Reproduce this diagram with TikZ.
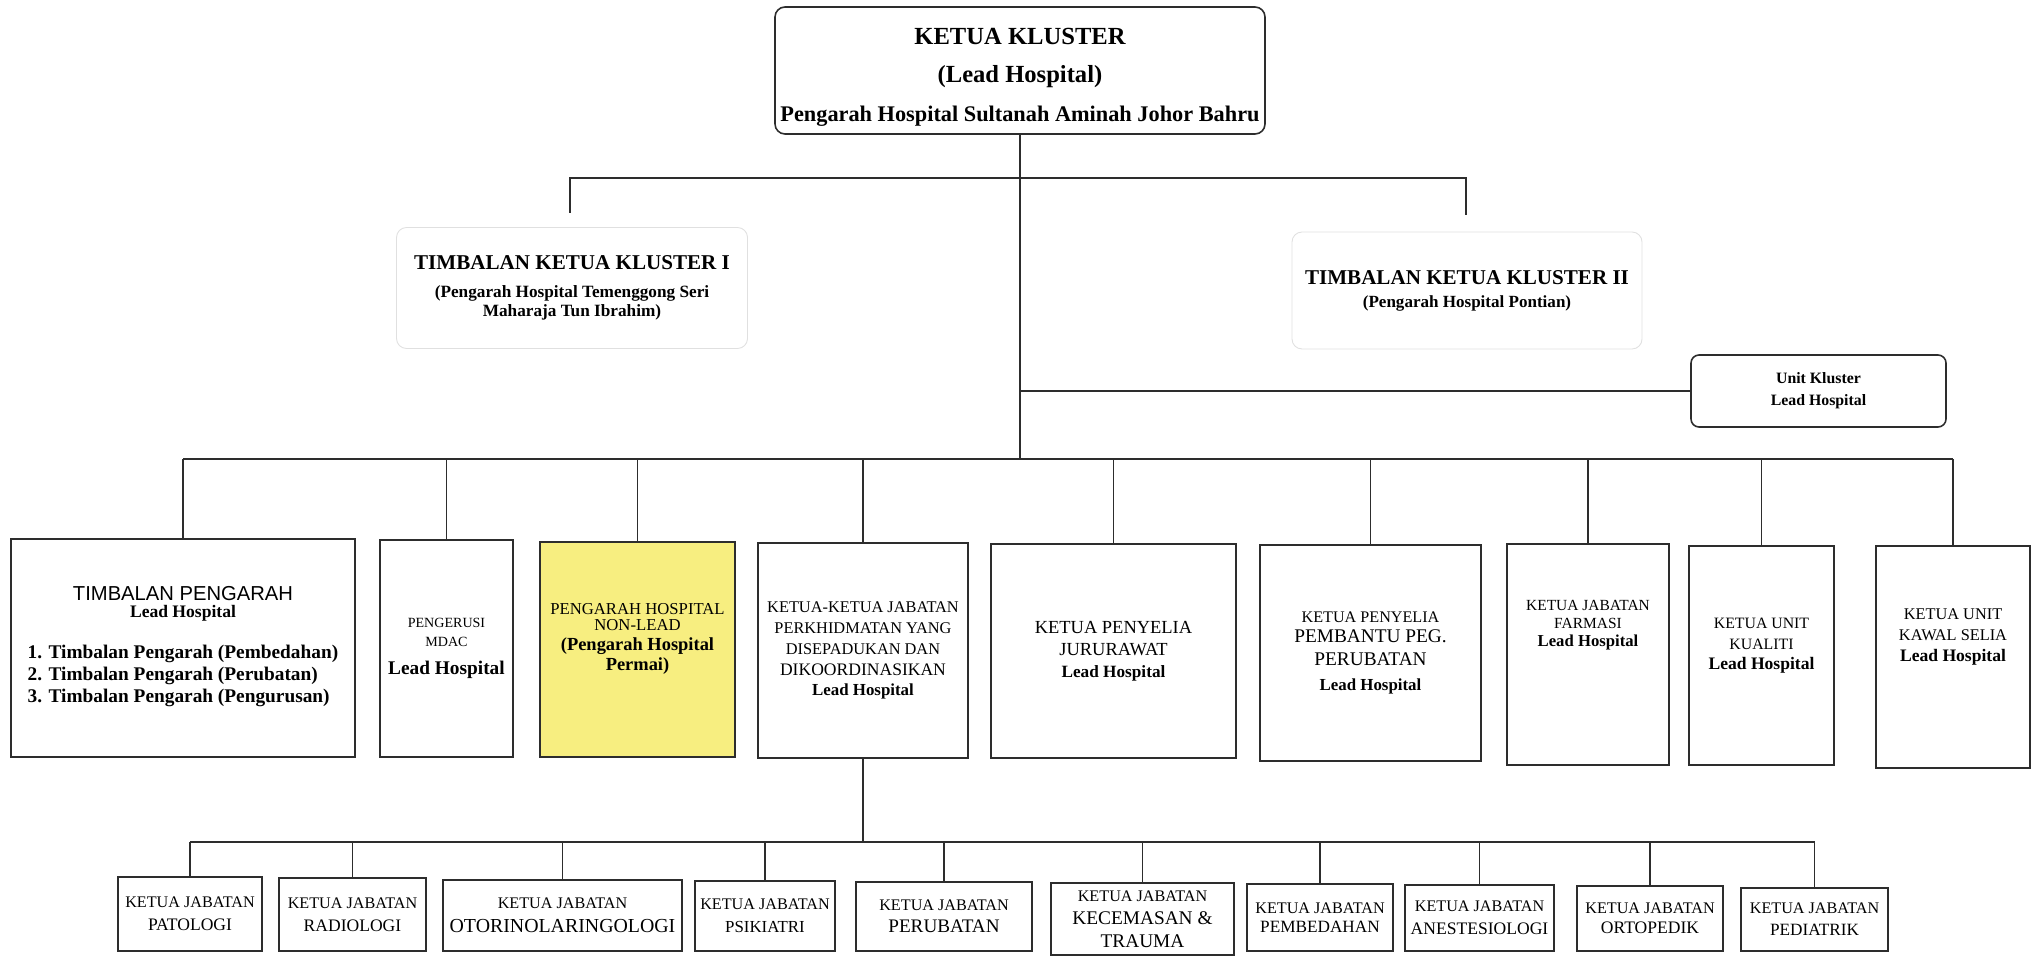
\documentclass[tikz,border=0pt]{standalone}
\usepackage{fontspec}
\setmainfont{Liberation Serif}
\setsansfont{Liberation Sans}
\newcommand{\fsz}[2]{\fontsize{#1pt}{#2pt}\selectfont}
\definecolor{linec}{RGB}{45,45,45}
\definecolor{nonleadyellow}{RGB}{247,238,128}
\tikzset{
  orgbox/.style={draw=linec, line width=0.9pt, inner sep=0pt, align=center},
  softbox/.style={draw=black!12, line width=0.5pt, rounded corners=0.2cm, inner sep=0pt, align=center},
  wh/.style 2 args={minimum width=#1*0.02cm, minimum height=#2*0.02cm},
  link/.style={draw=linec, line width=1pt},
  kjbox/.style={orgbox, font={\fsz{9.2}{13}}},
}
\begin{document}
\begin{tikzpicture}[x=0.02cm, y=-0.02cm]
  \useasboundingbox (0,0) rectangle (2040,956);
  \fill[white] (0,0) rectangle (2040,956);

  \node[orgbox, rounded corners=0.2cm, wh={490}{127}, font={\fsz{14}{22}\bfseries}] (ketua) at (1020,70.5)
    {\mbox{}\\[-5pt]KETUA KLUSTER\\(Lead Hospital)\\{\fsz{12.7}{15}Pengarah Hospital Sultanah Aminah Johor Bahru}};

  \node[softbox, wh={351}{121}, font={\fsz{9.8}{11}\bfseries}] (timbalan1) at (572,288)
    {{\fsz{12}{14}TIMBALAN KETUA KLUSTER I}\\[5pt](Pengarah Hospital Temenggong Seri\\Maharaja Tun Ibrahim)};
  \node[softbox, wh={350}{117}, font={\fsz{9.7}{13}\bfseries}] (timbalan2) at (1467,290.5)
    {{\fsz{12}{14}TIMBALAN KETUA KLUSTER II}\\(Pengarah Hospital Pontian)};

  \node[orgbox, rounded corners=0.16cm, wh={255}{72}, font={\fsz{9}{12.5}\bfseries}] (unitkluster) at (1818.5,391)
    {Unit Kluster\\Lead Hospital};

  \node[orgbox, wh={344}{218}, font={\fsz{11}{12.8}\bfseries}] (tp) at (183,648)
    {{\sffamily\mdseries\fsz{11.5}{12}TIMBALAN PENGARAH}\\[-3.2pt]{\fsz{10}{12}Lead Hospital}\\[10.4pt]%
     \begin{tabular}[t]{@{}l@{}}1. Timbalan Pengarah (Pembedahan)\\2. Timbalan Pengarah (Perubatan)\\3. Timbalan Pengarah (Pengurusan)\end{tabular}};
  \node[orgbox, wh={133}{217}, font={\fsz{8}{10.8}}] (mdac) at (446.5,648.5)
    {PENGERUSI\\MDAC\\[5.6pt]{\bfseries\fsz{11}{13}Lead Hospital}};
  \node[orgbox, fill=nonleadyellow, wh={195}{215}, font={\fsz{9.5}{11.3}}] (nonlead) at (637.5,649.5)
    {PENGARAH HOSPITAL\\[-2.3pt]NON-LEAD\\{\bfseries\fsz{10.5}{12}(Pengarah Hospital}\\{\bfseries\fsz{10.5}{12}Permai)}\\[3pt]\mbox{}};
  \node[orgbox, wh={210}{215}, font={\fsz{9.3}{11.9}}] (jabatan) at (863,650.5)
    {KETUA-KETUA JABATAN\\PERKHIDMATAN YANG\\DISEPADUKAN DAN\\{\fsz{10}{12}DIKOORDINASIKAN}\\{\bfseries\fsz{9.6}{12}Lead Hospital}};
  \node[orgbox, wh={245}{214}, font={\fsz{10.5}{12.5}}] (jururawat) at (1113.5,651)
    {KETUA PENYELIA\\JURURAWAT\\{\bfseries\fsz{9.8}{12}Lead Hospital}};
  \node[orgbox, wh={221}{216}, font={\fsz{11}{13.6}}] (pembantu) at (1370.5,653)
    {{\fsz{9.2}{11}KETUA PENYELIA}\\[-2.3pt]PEMBANTU PEG.\\PERUBATAN\\[0.6pt]{\bfseries\fsz{9.6}{12}Lead Hospital}};
  \node[orgbox, wh={162}{221}, font={\fsz{8.8}{10.2}}] (farmasi) at (1588,654.5)
    {KETUA JABATAN\\FARMASI\\{\bfseries\fsz{9.5}{12}Lead Hospital}\\[25pt]\mbox{}};
  \node[orgbox, wh={145}{219}, font={\fsz{9}{11.6}}] (kualiti) at (1761.5,655.5)
    {KETUA UNIT\\KUALITI\\{\bfseries\fsz{10}{12}Lead Hospital}\\[1.4pt]\mbox{}};
  \node[orgbox, wh={154}{222}, font={\fsz{9.3}{11.9}}] (kawal) at (1953,657)
    {KETUA UNIT\\KAWAL SELIA\\{\bfseries\fsz{10}{12}Lead Hospital}\\[13pt]\mbox{}};

  \node[kjbox, wh={144}{74}] (patologi) at (190,914) {KETUA JABATAN\\{\fsz{10}{12}PATOLOGI}};
  \node[kjbox, wh={147}{73}] (radiologi) at (352.5,914.5) {KETUA JABATAN\\{\fsz{10}{12}RADIOLOGI}};
  \node[kjbox, wh={239}{71}] (otorino) at (562.5,915.5) {KETUA JABATAN\\[0.6pt]{\fsz{11.3}{13}OTORINOLARINGOLOGI}};
  \node[kjbox, wh={140}{70}] (psikiatri) at (765,916) {KETUA JABATAN\\{\fsz{9.6}{12}PSIKIATRI}};
  \node[kjbox, wh={176}{69}] (perubatan) at (944,916.5) {KETUA JABATAN\\[-0.5pt]{\fsz{10.9}{12}PERUBATAN}};
  \node[kjbox, wh={183}{72}] (kecemasan) at (1142.5,919) {KETUA JABATAN\\{\fsz{11}{12}KECEMASAN \&}\\{\fsz{11}{12}TRAUMA}};
  \node[kjbox, wh={146}{67}] (pembedahan) at (1320,917.5) {KETUA JABATAN\\[-2.2pt]{\fsz{9.8}{12}PEMBEDAHAN}};
  \node[kjbox, wh={149}{66}] (anestesiologi) at (1479.5,918) {KETUA JABATAN\\{\fsz{10}{12}ANESTESIOLOGI}};
  \node[kjbox, wh={146}{65}] (ortopedik) at (1650,918.5) {KETUA JABATAN\\[-1.7pt]{\fsz{10}{12}ORTOPEDIK}};
  \node[kjbox, wh={147}{63}] (pediatrik) at (1814.5,919.5) {KETUA JABATAN\\[-0.5pt]{\fsz{9.8}{12}PEDIATRIK}};

  \coordinate (bus1) at (1020,178);
  \coordinate (t1end) at (570,213);
  \coordinate (t2end) at (1466,215);
  \coordinate (bus2) at (1020,459);
  \coordinate (bus3) at (863,842);

  \draw[link] (ketua.south) -- (bus2);
  \draw[link] (t1end) |- (bus1) -| (t2end);
  \draw[link] (ketua.south |- unitkluster.west) -- (unitkluster.west);
  \draw[link] (bus2 -| tp.north) -- (bus2 -| kawal.north);
  \foreach \n in {tp,mdac,nonlead,jabatan,jururawat,pembantu,farmasi,kualiti,kawal}
    \draw[link] (bus2 -| \n.north) -- (\n.north);
  \draw[link] (jabatan.south) -- (bus3);
  \draw[link] (bus3 -| patologi.north) -- (bus3 -| pediatrik.north);
  \foreach \n in {patologi,radiologi,otorino,psikiatri,perubatan,kecemasan,pembedahan,anestesiologi,ortopedik,pediatrik}
    \draw[link] (bus3 -| \n.north) -- (\n.north);
\end{tikzpicture}
\end{document}
